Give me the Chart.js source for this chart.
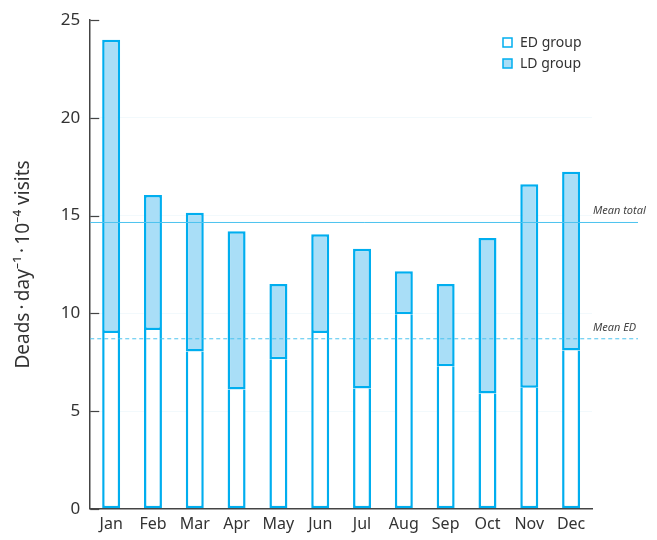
<!DOCTYPE html>
<html>
<head>
<meta charset="utf-8">
<script src="https://cdn.jsdelivr.net/npm/chart.js@4"></script>
<style>
  html, body { margin: 0; padding: 0; background: #ffffff; }
  #wrap { width: 657px; height: 540px; }
</style>
</head>
<body>
<div id="wrap"><canvas id="myChart" width="657" height="540"></canvas></div>
<script>
const months = ['Jan', 'Feb', 'Mar', 'Apr', 'May', 'Jun', 'Jul', 'Aug', 'Sep', 'Oct', 'Nov', 'Dec']
const edValues = [9.0, 9.15, 8.05, 6.1, 7.65, 9.0, 6.15, 9.95, 7.3, 5.9, 6.2, 8.1]
const totalValues = [24.0, 16.05, 15.15, 14.2, 11.5, 14.05, 13.3, 12.15, 11.5, 13.85, 16.6, 17.25]
const ldValues = totalValues.map((t, i) => +(t - edValues[i]).toFixed(2))
const meanTotal = 14.65
const meanED = 8.7
const yTicks = [0, 5, 10, 15, 20, 25]

const blue = '#00aeef'
const lightBlue = '#a9def7'
const textColor = '#333333'
const fontFamily = "'Noto Sans', 'Open Sans', sans-serif"

// mean lines, inward y ticks and legend drawn on top of the bars
const extras = {
    id: 'extras',
    afterDatasetsDraw(chart) {
        const ctx = chart.ctx
        const area = chart.chartArea
        const y = chart.scales.y
        const lineEnd = area.right + 46

        ctx.save()
        // inward tick marks on the y axis
        ctx.strokeStyle = '#444444'
        ctx.lineWidth = 1.2
        yTicks.forEach(v => {
            const py = Math.round(y.getPixelForValue(v)) + 0.5
            ctx.beginPath()
            ctx.moveTo(area.left, py)
            ctx.lineTo(area.left + 9, py)
            ctx.stroke()
        })

        // mean total (solid)
        let py = y.getPixelForValue(meanTotal)
        ctx.strokeStyle = '#4cc3ef'
        ctx.lineWidth = 1
        ctx.beginPath()
        ctx.moveTo(area.left, py)
        ctx.lineTo(lineEnd, py)
        ctx.stroke()
        ctx.fillStyle = '#444444'
        ctx.font = `italic 11px ${fontFamily}`
        ctx.textAlign = 'left'
        ctx.textBaseline = 'alphabetic'
        ctx.fillText('Mean total', area.right + 1, py - 8)

        // mean ED (dashed)
        py = y.getPixelForValue(meanED)
        ctx.strokeStyle = '#4cc3ef'
        ctx.setLineDash([4, 3])
        ctx.beginPath()
        ctx.moveTo(area.left, py)
        ctx.lineTo(lineEnd, py)
        ctx.stroke()
        ctx.setLineDash([])
        ctx.fillText('Mean ED', area.right + 1, py - 8)

        // legend
        const lx = 503
        const items = [['ED group', '#ffffff'], ['LD group', lightBlue]]
        ctx.font = `14px ${fontFamily}`
        ctx.textBaseline = 'middle'
        items.forEach((item, i) => {
            const ly = 43 + i * 21
            ctx.fillStyle = item[1]
            ctx.fillRect(lx, ly - 5, 9, 9)
            ctx.strokeStyle = blue
            ctx.lineWidth = 1.5
            ctx.strokeRect(lx, ly - 5, 9, 9)
            ctx.fillStyle = textColor
            ctx.fillText(item[0], lx + 17, ly)
        })
        ctx.restore()
    }
}

const chart = document.getElementById('myChart')

new Chart(chart, {
    type: 'bar',
    data: {
        labels: months,
        datasets: [{
            label: 'ED group',
            data: edValues,
            backgroundColor: '#ffffff',
            borderColor: blue,
            borderWidth: 2.5,
            borderSkipped: 'top'
        }, {
            label: 'LD group',
            data: ldValues,
            backgroundColor: lightBlue,
            borderColor: blue,
            borderWidth: 2.5,
            borderSkipped: false
        }]
    },
    options: {
        responsive: false,
        animation: false,
        layout: {
            padding: { top: 1, right: 65, left: 12, bottom: 0 }
        },
        datasets: {
            bar: { barPercentage: 0.43, categoryPercentage: 1 }
        },
        plugins: {
            legend: { display: false },
            tooltip: { enabled: false }
        },
        scales: {
            x: {
                stacked: true,
                grid: { display: false, drawTicks: false },
                border: { display: true, color: '#444444', width: 1.5 },
                ticks: {
                    color: textColor,
                    font: { family: fontFamily, size: 16 },
                    padding: 6
                }
            },
            y: {
                stacked: true,
                min: 0,
                max: 25,
                afterBuildTicks: axis => {
                    axis.ticks = yTicks.map(v => ({ value: v }))
                },
                grid: {
                    color: ctx => (ctx.tick && ctx.tick.value > 0 && ctx.tick.value < 25) ? '#f2f9fc' : 'rgba(0,0,0,0)',
                    drawTicks: false
                },
                border: { display: true, color: '#444444', width: 1.5 },
                ticks: {
                    color: textColor,
                    font: { family: fontFamily, size: 17 },
                    padding: 10
                },
                title: {
                    display: true,
                    text: 'Deads\u2009\u00b7\u2009day\u207b\u00b9\u2009\u00b7\u200910\u207b\u2074 visits',
                    color: textColor,
                    font: { family: fontFamily, size: 19 },
                    padding: { top: 0, bottom: 16 }
                }
            }
        }
    },
    plugins: [extras]
})
</script>
</body>
</html>
